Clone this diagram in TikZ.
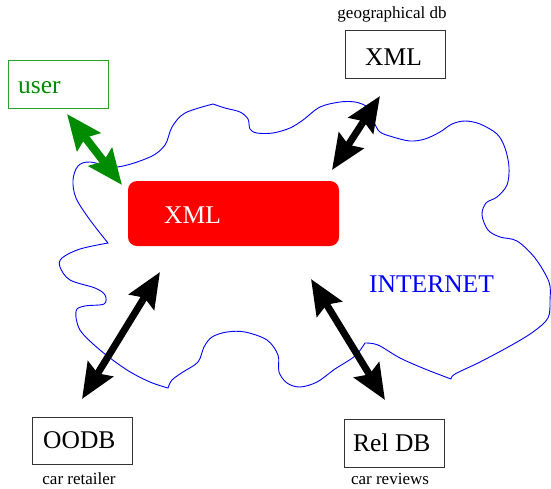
\documentclass[tikz,border=0pt]{standalone}
\usepackage{fontspec}
\setmainfont{Liberation Serif}
\usetikzlibrary{arrows.meta}
\definecolor{usergreen}{RGB}{0,140,0}
\definecolor{userframe}{RGB}{40,165,40}
\definecolor{netblue}{RGB}{0,0,255}
\definecolor{hubred}{RGB}{255,0,0}
\begin{document}
\begin{tikzpicture}[x=1pt,y=-1pt,
  box/.style={draw=black!80, line width=0.8pt, minimum width=100pt,
    minimum height=48pt, inner sep=0pt},
  lbl/.style={anchor=base west, inner sep=0pt, font=\fontsize{25.5}{30}\selectfont},
  note/.style={anchor=base, inner sep=0pt, font=\fontsize{17}{20}\selectfont},
  link/.style={line width=7pt, {Stealth[length=35pt,width=29pt,inset=5pt]}-{Stealth[length=35pt,width=29pt,inset=5pt]}},
  cloud/.style={draw=netblue, line width=0.9pt}]
\useasboundingbox (0,0) rectangle (551,488);

% the internet cloud
\draw[cloud]
  plot[smooth, tension=0.55] coordinates {(213,104) (185,113) (172,127) (165,145)
    (150,157) (117,167) (90,162) (78,166) (73,180) (76,198) (90,220) (108,243)}
  -- plot[smooth, tension=0.55] coordinates {(108,243) (80,249) (62,258) (60,267)
    (70,280) (95,288) (105,295) (104,304) (85,306) (76,311) (80,330) (100,350)
    (127,370) (150,382) (168,388)}
  -- plot[smooth, tension=0.55] coordinates {(168,388) (172,380) (183,372)
    (198,362) (204,347) (212,337) (227,332) (245,332) (267,340) (278,355)
    (279,372) (287,383) (300,387) (317,382) (335,369) (355,356) (365,343)}
  -- plot[smooth, tension=0.55] coordinates {(365,343) (378,345) (400,358)
    (425,369) (451,379)}
  -- plot[smooth, tension=0.55] coordinates {(451,379) (455,374) (480,362)
    (510,346) (533,332) (548,318) (550,300) (549,282) (535,258) (517,241)
    (500,237) (488,230) (482,215) (486,203) (497,197) (507,185) (509,167)
    (505,148) (497,134) (480,124) (465,121) (452,124) (440,132) (425,139)
    (410,141) (393,137) (380,132) (374,122) (372,113) (366,106) (355,102)
    (340,102) (320,107) (303,120) (290,128) (273,133) (257,133) (250,129)
    (248,119) (240,112) (225,108) (213,104)};

% boxes
\node[box] (geo) at (395,54) {};
\node[box, draw=userframe] (user) at (58,84) {};
\node[box, minimum height=47pt] (oodb) at (82,440.5) {};
\node[box] (reldb) at (394,443) {};
\node[fill=hubred, rounded corners=9pt, minimum width=211pt,
  minimum height=65pt, inner sep=0pt] (hub) at (233.5,213.5) {};

% texts
\node[note] (geonote) at (392,18) {geographical db};
\node[lbl] (geotext) at (365,65) {XML};
\node[lbl, text=usergreen] (usertext) at (18,93) {user};
\node[lbl, text=white] (hubtext) at (164,223) {XML};
\node[lbl, text=netblue] (nettext) at (369,292) {INTERNET};
\node[lbl] (oodbtext) at (43,448) {OODB};
\node[note] (oodbnote) at (79,484) {car retailer};
\node[lbl] (reltext) at (353,451) {Rel DB};
\node[note] (relnote) at (390,484) {car reviews};

% arrow ends
\coordinate (userA) at (67,114);
\coordinate (userB) at (122,185);
\coordinate (geoA) at (380,96);
\coordinate (geoB) at (332,170);
\coordinate (oodbA) at (160,272);
\coordinate (oodbB) at (82,399);
\coordinate (relA) at (311,279);
\coordinate (relB) at (385,400);

% connections
\draw[link, draw=usergreen, line width=8pt] (userA) -- (userB);
\draw[link] (geoA) -- (geoB);
\draw[link] (oodbA) -- (oodbB);
\draw[link] (relA) -- (relB);
\end{tikzpicture}
\end{document}
